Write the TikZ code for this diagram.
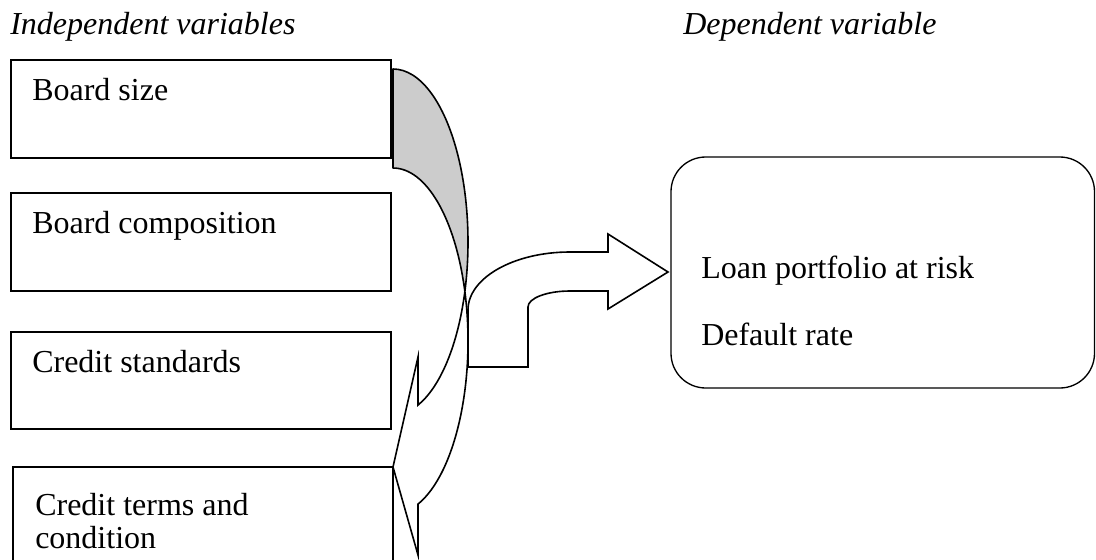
\documentclass[tikz,border=0pt]{standalone}
\usepackage{fontspec}
\setmainfont{Liberation Serif}
\usetikzlibrary{fit}
\definecolor{facegray}{RGB}{204,204,204}
\begin{document}
\begin{tikzpicture}[x=0.75pt,y=-0.75pt,
  box/.style={draw, line width=1pt, inner sep=0pt},
  lbl/.style={anchor=base west, inner sep=0pt, font=\fontsize{24}{28}\selectfont},
  arrowshape/.style={draw=black, line width=1.2pt, line join=miter}]
\clip (0,0) rectangle (1096,560);

% headings
\node[lbl, font=\fontsize{24}{28}\selectfont\itshape] (hind) at (10,35) {Independent variables};
\node[lbl, font=\fontsize{24}{28}\selectfont\itshape] (hdep) at (683,35) {Dependent variable};

% independent variable boxes
\node[box, fit={(11,60)(391,158)}] (b1) {};
\node[box, fit={(11,193)(391,291)}] (b2) {};
\node[box, fit={(11,332)(391,429)}] (b3) {};
\node[box, fit={(13,467)(393,600)}] (b4) {};
\node[lbl] (t1) at (32,100) {Board size};
\node[lbl] (t2) at (32,233) {Board composition};
\node[lbl] (t3) at (32,372) {Credit standards};
\node[lbl] (t4a) at (35,515) {Credit terms and};
\node[lbl] (t4b) at (35,548) {condition};

% dependent variable box
\node[box, rounded corners=26pt, fit={(671,157)(1094.5,388)}] (dep) {};
\node[lbl] (d1) at (701,278) {Loan portfolio at risk};
\node[lbl] (d2) at (701,345) {Default rate};

% curved left arrow: back face (gray)
\path[arrowshape, fill=facegray, line join=round]
  (393,69) arc[start angle=-90, end angle=16.63, x radius=75, y radius=173]
  arc[start angle=-16.63, end angle=-90, x radius=75, y radius=173] -- cycle;
% curved left arrow: front face with head
\path[arrowshape, fill=white]
  (464.86,291.5) arc[start angle=-16.63, end angle=70.53, x radius=75, y radius=173]
  -- (418,555) -- (393,467) -- (418,357) -- (418,405.1)
  arc[start angle=70.53, end angle=16.63, x radius=75, y radius=173] -- cycle;

% bent arrow to the dependent variable
\path[arrowshape]
  (468,367) -- (528,367) -- (528,307)
  arc[start angle=180, end angle=270, x radius=42, y radius=16]
  -- (608,291) -- (608,309) -- (668,272) -- (608,234) -- (608,252) -- (570,252)
  arc[start angle=270, end angle=180, x radius=102, y radius=58] -- cycle;
\end{tikzpicture}
\end{document}
